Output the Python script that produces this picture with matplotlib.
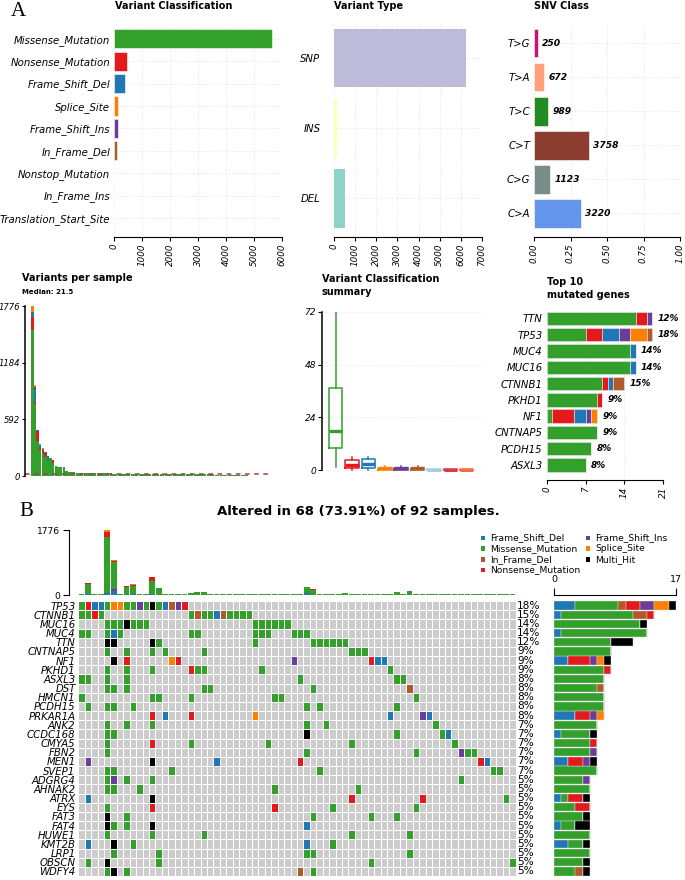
import numpy as np
import matplotlib
matplotlib.use('Agg')
import matplotlib.pyplot as plt
from matplotlib.colors import ListedColormap
from matplotlib.patches import Rectangle

W, H = 685, 880

# maftools colours
vc_col = {'Missense_Mutation': '#33A02C', 'Nonsense_Mutation': '#E31A1C',
          'Frame_Shift_Del': '#1F78B4', 'Splice_Site': '#FF7F00',
          'Frame_Shift_Ins': '#6A3D9A', 'In_Frame_Del': '#B15928',
          'Nonstop_Mutation': '#A6CEE3', 'In_Frame_Ins': '#D53E4F',
          'Translation_Start_Site': '#F46D43', 'Multi_Hit': '#000000'}

# ---- panel A data
vc_names = ['Missense_Mutation', 'Nonsense_Mutation', 'Frame_Shift_Del', 'Splice_Site',
            'Frame_Shift_Ins', 'In_Frame_Del', 'Nonstop_Mutation', 'In_Frame_Ins',
            'Translation_Start_Site']
vc_counts = [5643, 452, 393, 143, 119, 107, 2, 5, 2]

vt_names = ['SNP', 'INS', 'DEL']
vt_counts = [6240, 110, 523]
vt_colors = ['#BEBADA', '#FFFFB3', '#8DD3C7']

snv_names = ['T>G', 'T>A', 'T>C', 'C>T', 'C>G', 'C>A']
snv_counts = [250, 672, 989, 3758, 1123, 3220]
snv_colors = ['#CD1076', '#FFA07A', '#228B22', '#8B3E2F', '#7A8B8B', '#6495ED']

# variants per sample (first 68 = altered samples in oncoplot order)
tmb_missense = [18, 270, 20, 22, 1525, 750, 24, 200, 238, 35,
                22, 366, 183, 18, 24, 35, 22, 45, 95, 95,
                22, 25, 40, 20, 18, 18, 24, 38, 24, 20,
                32, 24, 20, 22, 20, 155, 137, 20, 24, 35,
                35, 50, 35, 20, 32, 20, 15, 20, 20, 90,
                28, 100, 32, 20, 18, 24, 28, 35, 28, 35,
                24, 20, 20, 20, 18, 20, 35, 24]
tmb_nonsense = {1: 20, 4: 137, 5: 27, 7: 37, 8: 27, 11: 100, 36: 27}
tmb_fs_del = {1: 30, 4: 50, 5: 119, 7: 18, 8: 18, 11: 18, 35: 55}
tmb_splice = {1: 10, 4: 64, 5: 18, 8: 8}
tmb_fs_ins = {5: 37}
tmb_if_del = {1: 8}
tmb_unaltered = [19, 17, 16, 15, 14, 13, 12, 11, 10, 9, 9, 8,
                 7, 6, 6, 5, 4, 4, 3, 3, 2, 2, 1, 1]
median_vps = 21.5

# variant classification summary (box stats per sample)
vcs_lo = [1.5, 0, 0, 0, 0, 0, 0, 0, 0]
vcs_q1 = [10.3, 1, 1, 0, 0, 0, 0, 0, 0]
vcs_med = [17.8, 2.5, 3, 1, 1, 1, 0, 0, 0]
vcs_q3 = [37.5, 4.5, 5, 1.3, 1.3, 1.3, 0.7, 0.7, 0.7]
vcs_hi = [72, 6, 6, 2.2, 2.2, 2.2, 0.7, 0.7, 0.7]

# top 10 mutated genes
top_genes = ['TTN', 'TP53', 'MUC4', 'MUC16', 'CTNNB1', 'PKHD1', 'NF1', 'CNTNAP5', 'PCDH15', 'ASXL3']
top_pct = ['12%', '18%', '14%', '14%', '15%', '9%', '9%', '9%', '8%', '8%']
top_missense = [16, 7, 15, 15, 10, 9, 1, 9, 8, 7]
top_nonsense = [2, 3, 0, 0, 1, 1, 4, 0, 0, 0]
top_fs_del = [0, 3, 1, 1, 1, 0, 2, 0, 0, 0]
top_fs_ins = [1, 2, 0, 0, 0, 0, 1, 0, 0, 0]
top_splice = [0, 3, 0, 0, 0, 0, 1, 0, 0, 0]
top_if_del = [0, 1, 0, 0, 2, 0, 0, 0, 0, 0]

# ---- panel B oncoplot
onco_genes = ['TP53', 'CTNNB1', 'MUC16', 'MUC4', 'TTN', 'CNTNAP5', 'NF1', 'PKHD1', 'ASXL3', 'DST',
              'HMCN1', 'PCDH15', 'PRKAR1A', 'ANK2', 'CCDC168', 'CMYA5', 'FBN2', 'MEN1', 'SVEP1',
              'ADGRG4', 'AHNAK2', 'ATRX', 'EYS', 'FAT3', 'FAT4', 'HUWE1', 'KMT2B', 'LRP1',
              'OBSCN', 'WDFY4']
onco_pct = ['18%', '15%', '14%', '14%', '12%', '9%', '9%', '9%', '8%', '8%', '8%', '8%', '8%',
            '7%', '7%', '7%', '7%', '7%', '7%', '5%', '5%', '5%', '5%', '5%', '5%', '5%', '5%',
            '5%', '5%', '5%']
# letter = class, number = sample column
onco_calls = [
    'G0 R1 B2 B3 G4 O5 O6 G7 G8 P9 G10 K11 G12 B13 N14 P15 R16',
    'G0 G1 R2 G3 G17 N18 G19 G20 B21 N22 G23 G24 G25 G26',
    'G4 G5 G6 K7 G8 G9 G10 G27 G28 G29 G30 G31 G32',
    'G0 G1 G4 B5 G6 G17 G18 G27 G28 G29 G33 G34 G35',
    'K4 K5 K11 G12 G27 G36 G37 G38 G39 G40 G41',
    'G4 G7 G11 G13 G19 G42 G43 G44',
    'K5 R7 O14 R15 P33 R45 B46 B47',
    'G4 G7 G11 R17 G18 G19 G28 G48',
    'G0 G1 G4 G7 G34 G49 G50',
    'G4 G5 G7 G19 G20 G36 N51',
    'G0 G11 G12 G17 G30 G31 G52',
    'G1 G4 G5 G8 G35 G37 G49',
    'R11 B13 R17 O27 B48 P53 B54',
    'G4 G7 G11 G35 G38 G55',
    'G4 G5 K35 G49 G56 B57',
    'G4 R11 G17 G29 G42 G58',
    'G4 G35 G52 P59 G60 G61',
    'P1 K11 B21 R34 R62 B63',
    'G4 G5 G14 G37 G64 G65',
    'G4 P5 G7 G11 G59',
    'G4 G5 G9 G30 G43',
    'B1 K11 R42 R53 G66',
    'G4 R11 R30 G39 G52',
    'K4 G7 G36 G45 G49',
    'K4 G5 G7 K11 B35',
    'G4 G11 G19 G42 G51',
    'B1 K5 G8 B35 G39',
    'G5 G12 G35 G36 G51',
    'G1 K4 G12 G45 G67',
    'G4 K5 G7 N34 G36',
]
code_class = {'B': 'Frame_Shift_Del', 'G': 'Missense_Mutation', 'N': 'In_Frame_Del',
              'R': 'Nonsense_Mutation', 'P': 'Frame_Shift_Ins', 'O': 'Splice_Site', 'K': 'Multi_Hit'}
legend_col1 = ['Frame_Shift_Del', 'Missense_Mutation', 'In_Frame_Del', 'Nonsense_Mutation']
legend_col2 = ['Frame_Shift_Ins', 'Splice_Site', 'Multi_Hit']

fig = plt.figure(figsize=(W / 100, H / 100), dpi=100)


def px_axes(x0, y0, x1, y1):
    return fig.add_axes([x0 / W, 1 - y1 / H, (x1 - x0) / W, (y1 - y0) / H])


def px_text(x, y, s, **kw):
    fig.text(x / W, 1 - y / H, s, **kw)


def only_spine(ax, keep):
    for s in ['top', 'bottom', 'left', 'right']:
        ax.spines[s].set_visible(s in keep)


def light_grid(ax, axis='both'):
    ax.grid(True, axis=axis, ls=(0, (1, 2)), color='#d9d9d9', lw=0.6)
    ax.set_axisbelow(True)


px_text(11, 12, 'A', family='Liberation Serif', fontsize=15, va='center')
px_text(19, 512, 'B', family='Liberation Serif', fontsize=15, va='center')

# ---------- Variant Classification
ax = px_axes(114.3, 27.6, 282.3, 237)
pos = np.arange(len(vc_names))
ax.barh(pos, vc_counts, height=0.85, color=[vc_col[n] for n in vc_names], edgecolor='white', lw=0.4)
ax.set_xlim(0, 6000)
ax.set_ylim(8.85, -0.5)
ax.set_xticks(np.arange(0, 6001, 1000))
ax.set_xticklabels([str(v) for v in range(0, 6001, 1000)], rotation=90, style='italic', fontsize=6.3)
ax.set_yticks(pos)
ax.set_yticklabels(vc_names, style='italic', fontsize=7.3)
ax.tick_params(axis='y', length=0, pad=3)
ax.tick_params(axis='x', length=3, width=0.8, pad=1.5)
only_spine(ax, ['bottom'])
light_grid(ax)
px_text(115, 6, 'Variant Classification', weight='bold', fontsize=7, va='center')

# ---------- Variant Type
ax = px_axes(334.3, 23, 481.7, 237)
pos = np.arange(len(vt_names))
ax.barh(pos, vt_counts, height=0.83, color=vt_colors, lw=0)
ax.set_xlim(0, 7000)
ax.set_ylim(2.55, -0.5)
ax.set_xticks(np.arange(0, 7001, 1000))
ax.set_xticklabels([str(v) for v in range(0, 7001, 1000)], rotation=90, style='italic', fontsize=6.3)
ax.set_yticks(pos)
ax.set_yticklabels(vt_names, style='italic', fontsize=7.3)
ax.tick_params(axis='y', length=0, pad=10)
ax.tick_params(axis='x', length=3, width=0.8, pad=1.5)
only_spine(ax, ['bottom'])
light_grid(ax)
px_text(334, 6, 'Variant Type', weight='bold', fontsize=7, va='center')

# ---------- SNV Class
ax = px_axes(534, 26, 680, 237)
snv_frac = np.array(snv_counts) / np.sum(snv_counts)
pos = np.arange(len(snv_names))
ax.barh(pos, snv_frac, height=0.84, color=snv_colors, edgecolor='white', lw=0.4)
for p, f, c in zip(pos, snv_frac, snv_counts):
    ax.text(f + 0.03, p, str(c), style='italic', weight='bold', fontsize=6.6, va='center')
ax.set_xlim(0, 1)
ax.set_ylim(5.69, -0.5)
ax.set_xticks([0, 0.25, 0.5, 0.75, 1.0])
ax.set_xticklabels(['0.00', '0.25', '0.50', '0.75', '1.00'], rotation=90, style='italic', fontsize=6.3)
ax.set_yticks(pos)
ax.set_yticklabels(snv_names, style='italic', fontsize=7.3)
ax.tick_params(axis='y', length=0, pad=3)
ax.tick_params(axis='x', length=3, width=0.8, pad=1.5)
only_spine(ax, ['bottom'])
light_grid(ax)
px_text(534, 6, 'SNV Class', weight='bold', fontsize=7, va='center')

# ---------- Variants per sample
n_alt = len(tmb_missense)
n_all = n_alt + len(tmb_unaltered)


def expand(d):
    v = np.zeros(n_all)
    for k, val in d.items():
        v[k] = val
    return v


mis_all = np.array(tmb_missense + tmb_unaltered, float)
comp = [('Missense_Mutation', mis_all), ('Nonsense_Mutation', expand(tmb_nonsense)),
        ('Frame_Shift_Del', expand(tmb_fs_del)), ('Frame_Shift_Ins', expand(tmb_fs_ins)),
        ('In_Frame_Del', expand(tmb_if_del)), ('Splice_Site', expand(tmb_splice))]
total = sum(c[1] for c in comp)
order = np.argsort(-total, kind='stable')

ax = px_axes(25, 306, 272, 476)
x = np.arange(n_all)
bottom = np.zeros(n_all)
for name, vals in comp:
    v = vals[order]
    ax.bar(x, v, bottom=bottom, width=0.9, color=vc_col[name], lw=0)
    bottom += v
ax.axhline(median_vps, ls=(0, (3, 3)), color='#B03060', lw=1.1)
ax.set_xlim(-2.8, n_all - 0.5)
ax.set_ylim(0, 1776)
ax.set_yticks([0, 592, 1184, 1776])
ax.set_yticklabels(['0', '592', '1184', '1776'], style='italic', fontsize=6.1)
ax.set_xticks([])
ax.tick_params(axis='y', length=2.5, width=0.8, pad=0.8)
only_spine(ax, ['left'])
ax.spines['left'].set_linewidth(1.1)
px_text(22, 278, 'Variants per sample', weight='bold', fontsize=7, va='center')
px_text(22, 292, 'Median: ' + str(median_vps), weight='bold', fontsize=5, va='center')

# ---------- Variant Classification summary
ax = px_axes(321.7, 311.7, 481, 471.7)
stats = [dict(med=m, q1=a, q3=b, whislo=lo, whishi=hi, fliers=[])
         for lo, a, m, b, hi in zip(vcs_lo, vcs_q1, vcs_med, vcs_q3, vcs_hi)]
bp = ax.bxp(stats, positions=np.arange(len(stats)), widths=0.82, showcaps=False,
            showfliers=False, boxprops=dict(lw=1.1), medianprops=dict(lw=2.4),
            whiskerprops=dict(lw=1.1))
for i, name in enumerate(vc_names):
    c = vc_col[name]
    bp['boxes'][i].set_color(c)
    bp['medians'][i].set_color(c)
    bp['whiskers'][2 * i].set_color(c)
    bp['whiskers'][2 * i + 1].set_color(c)
ax.set_xlim(-0.85, 8.87)
ax.set_ylim(-0.6, 72)
ax.spines['left'].set_bounds(0, 72)
ax.set_yticks([0, 24, 48, 72])
ax.set_yticklabels(['0', '24', '48', '72'], style='italic', fontsize=6.6)
ax.set_xticks([])
ax.tick_params(axis='y', length=3, width=0.8, pad=1)
only_spine(ax, ['left'])
ax.spines['left'].set_linewidth(1.1)
ax.grid(True, axis='y', ls=(0, (1, 2)), color='#e3e3e3', lw=0.6)
ax.set_axisbelow(True)
px_text(322, 279, 'Variant Classification', weight='bold', fontsize=7, va='center')
px_text(322, 292, 'summary', weight='bold', fontsize=7, va='center')

# ---------- Top 10 mutated genes
ax = px_axes(546.7, 310.2, 663.3, 480)
pos = np.arange(len(top_genes))
left = np.zeros(len(top_genes))
for name, vals in [('Missense_Mutation', top_missense), ('Nonsense_Mutation', top_nonsense),
                   ('Frame_Shift_Del', top_fs_del), ('Frame_Shift_Ins', top_fs_ins),
                   ('Splice_Site', top_splice), ('In_Frame_Del', top_if_del)]:
    v = np.array(vals, float)
    ax.barh(pos, v, left=left, height=0.82, color=vc_col[name], edgecolor='#e8e8e8', lw=0.4)
    left += v
for p, t, lab in zip(pos, left, top_pct):
    ax.text(t + 1.0, p, lab, style='italic', weight='bold', fontsize=6.5, va='center')
ax.set_xlim(0, 21)
ax.set_ylim(9.92, -0.5)
ax.set_xticks([0, 7, 14, 21])
ax.set_xticklabels(['0', '7', '14', '21'], rotation=90, style='italic', fontsize=6.3)
ax.set_yticks(pos)
ax.set_yticklabels(top_genes, style='italic', fontsize=7.3)
ax.tick_params(axis='y', length=0, pad=3)
ax.tick_params(axis='x', length=3, width=0.8, pad=1.5)
only_spine(ax, ['bottom'])
light_grid(ax, 'x')
px_text(547, 282, 'Top 10', weight='bold', fontsize=7, va='center')
px_text(547, 295, 'mutated genes', weight='bold', fontsize=7, va='center')

# ---------- Oncoplot
n_genes = len(onco_genes)
codes = ['.', 'B', 'G', 'N', 'R', 'P', 'O', 'K']
mat = np.zeros((n_genes, n_alt), int)
for gi, calls in enumerate(onco_calls):
    for tok in calls.split():
        mat[gi, int(tok[1:])] = codes.index(tok[0])
cmap = ListedColormap(['#CCCCCC'] + [vc_col[code_class[c]] for c in codes[1:]])

px_text(358, 512, 'Altered in 68 (73.91%) of 92 samples.', weight='bold', fontsize=9.5,
        ha='center', va='center')

# top bar
ax = px_axes(78.3, 530, 515.7, 595)
only_spine(ax, ['left'])
ax.spines['left'].set_position(('outward', 7))
ax.spines['left'].set_linewidth(0.8)
bottom = np.zeros(n_alt)
for name in ['Frame_Shift_Del', 'Frame_Shift_Ins', 'In_Frame_Del', 'Missense_Mutation',
             'Nonsense_Mutation', 'Splice_Site']:
    v = dict(comp)[name][:n_alt]
    ax.bar(np.arange(n_alt), v, bottom=bottom, width=0.9, color=vc_col[name], lw=0)
    bottom += v
ax.set_xlim(-0.5, n_alt - 0.5)
ax.set_ylim(0, 1776)
ax.set_yticks([0, 1776])
ax.set_yticklabels(['0', '1776'])
ax.set_xticks([])
ax.tick_params(axis='y', length=4, width=0.8, pad=2, labelsize=6.6)

# grid
ax = px_axes(78.3, 601, 515.7, 876)
ax.pcolormesh(np.arange(n_alt + 1) - 0.5, np.arange(n_genes + 1) - 0.5, mat, cmap=cmap,
              vmin=-0.5, vmax=len(codes) - 0.5, edgecolors='white', linewidth=0.6)
ax.set_xlim(-0.5, n_alt - 0.5)
ax.set_ylim(n_genes - 0.5, -0.5)
ax.set_xticks([])
ax.set_yticks(np.arange(n_genes))
ax.set_yticklabels(onco_genes, style='italic', fontsize=7.3)
ax.tick_params(axis='y', length=0, pad=2)
only_spine(ax, [])
for gi, p in enumerate(onco_pct):
    ax.text(n_alt - 0.3, gi, p, fontsize=7.6, va='center', ha='left')

# right bars
ax = px_axes(554, 601, 675.7, 876)
only_spine(ax, ['top'])
ax.spines['top'].set_position(('outward', 4))
ax.spines['top'].set_linewidth(0.8)
left = np.zeros(n_genes)
for c in ['B', 'G', 'N', 'R', 'P', 'O', 'K']:
    v = (mat == codes.index(c)).sum(axis=1).astype(float)
    ax.barh(np.arange(n_genes), v, left=left, height=0.92, color=vc_col[code_class[c]],
            edgecolor='#dcdcdc', lw=0.3)
    left += v
ax.set_xlim(0, 17)
ax.set_ylim(n_genes - 0.5, -0.5)
ax.set_yticks([])
ax.xaxis.tick_top()
ax.set_xticks([0, 17])
ax.set_xticklabels(['0', '17'])
ax.tick_params(axis='x', length=5, width=0.8, pad=3, labelsize=6.8)

# legend
leg_rows = [538, 548.5, 559.5, 570]
for col_x, names in [(481, legend_col1), (586, legend_col2)]:
    for y, name in zip(leg_rows, names):
        fig.add_artist(Rectangle((col_x / W, 1 - (y + 2.2) / H), 4.4 / W, 4.4 / H,
                                 transform=fig.transFigure, color=vc_col[name], lw=0))
        px_text(col_x + 9, y, name, fontsize=6.6, va='center')

fig.savefig('out.png', dpi=100)
